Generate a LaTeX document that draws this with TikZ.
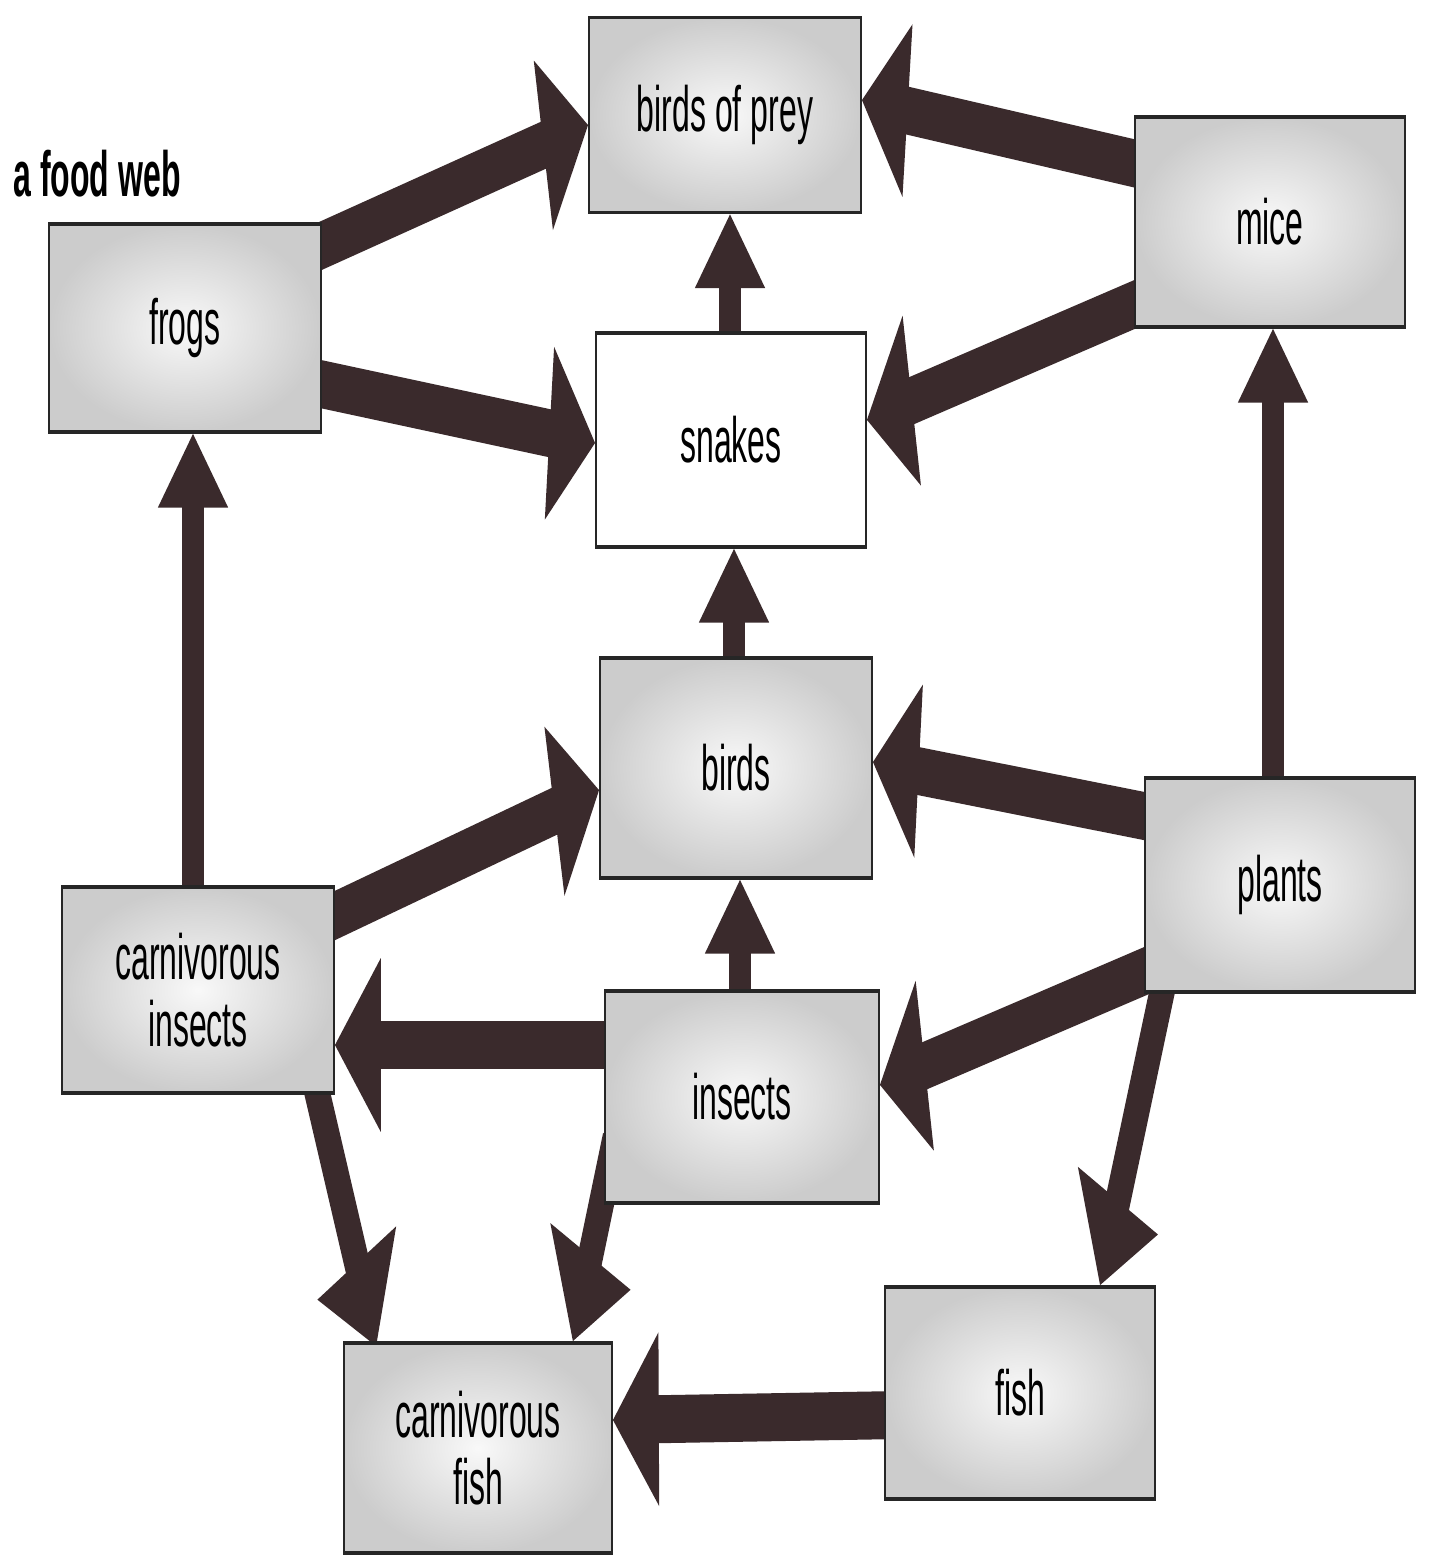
\documentclass[tikz,border=0pt]{standalone}
\usepackage{fontspec}
\setmainfont{Liberation Sans}
\usetikzlibrary{arrows.meta,calc}
\pgfdeclarelayer{bg}
\pgfsetlayers{bg,main}
\definecolor{arrowcol}{RGB}{58,42,44}
\tikzset{
  box/.style 2 args={draw=black!85, line width=1.6pt, minimum width=#1pt,
    minimum height=#2pt, inner sep=0pt, align=center,
    font=\fontsize{32}{33.5}\selectfont,
    inner color=gray!5, outer color=gray!40},
  plainbox/.style 2 args={draw=black!85, line width=1.6pt, minimum width=#1pt,
    minimum height=#2pt, inner sep=0pt, align=center,
    font=\fontsize{32}{33.5}\selectfont, fill=white},
  fat/.style={draw=arrowcol, line width=24pt, -{Triangle[length=46pt,width=84pt]}},
  fatv/.style={draw=arrowcol, line width=22pt, -{Triangle[length=37pt,width=68pt]}},
  title/.style={anchor=base west, font=\bfseries\fontsize{32}{36}\selectfont}
}
\begin{document}
\begin{tikzpicture}[x=1pt, y=-0.5pt]
\useasboundingbox (0pt,0pt) rectangle (1429pt,-1563pt);
\begin{scope}[transform canvas={yscale=2}]
  \node[title] (title) at (10,196) {a food web};
  \node[box={272}{97.5}] (bop) at (725,115) {birds of prey};
  \node[box={270}{105}] (mice) at (1270,222) {mice};
  \node[box={272}{104}] (frogs) at (185,328) {frogs};
  \node[plainbox={270}{107}] (snakes) at (731,440) {snakes};
  \node[box={272}{110}] (birds) at (736,768) {birds};
  \node[box={270}{107}] (plants) at (1280,885) {plants};
  \node[box={272}{103}] (carnins) at (198,990) {carnivorous\\insects};
  \node[box={274}{106}] (insects) at (742,1097) {insects};
  \node[box={270}{106}] (fish) at (1020,1393) {fish};
  \node[box={268}{105}] (carnfish) at (478,1448) {carnivorous\\fish};
\end{scope}
\begin{pgfonlayer}{bg}
\fill[white] (0pt,0pt) rectangle (1429pt,-1563pt);
\begin{scope}[transform canvas={yscale=2}]
  % frogs
  \draw[fat] ($(frogs.east)+(-28,-70)$) -- ($(bop.west)+(0,10)$);
  \draw[fat] ($(frogs.east)+(-20,52)$) -- ($(snakes.west)+(0,3)$);
  % mice
  \draw[fat] ($(mice.west)+(20,-54)$) -- ($(bop.east)+(0,-15)$);
  \draw[fat] ($(mice.west)+(20,74)$) -- ($(snakes.east)+(0,-20)$);
  % vertical ones
  \draw[fatv] ($(snakes.north)+(-1,10)$) -- ($(bop.south)+(5,0)$);
  \draw[fatv] ($(birds.north)+(-2,10)$) -- ($(snakes.south)+(3,0)$);
  \draw[fatv] ($(plants.north)+(-7,10)$) -- ($(mice.south)+(3,0)$);
  \draw[fatv] ($(insects.north)+(-2,10)$) -- ($(birds.south)+(4,0)$);
  \draw[fatv] ($(carnins.north)+(-5,10)$) -- ($(frogs.south)+(8,0)$);
  % plants
  \draw[fat] ($(plants.west)+(20,-65)$) -- ($(birds.east)+(0,-6)$);
  \draw[fat] ($(plants.west)+(20,78)$) -- ($(insects.east)+(0,-12)$);
  \draw[fat] ($(plants.south west)+(20,-12)$) -- ($(fish.north)+(80,0)$);
  % insects
  \draw[fat] ($(insects.west)+(15,-52)$) -- ($(carnins.east)+(0,55)$);
  \draw[fat] ($(insects.west)+(10,45)$) -- ($(carnfish.north east)+(-40,0)$);
  % carnivorous insects
  \draw[fat] ($(carnins.east)+(-22,-64)$) -- ($(birds.west)+(0,22)$);
  \draw[fat] ($(carnins.south east)+(-20,-12)$) -- ($(carnfish.north west)+(33,5)$);
  % fish
  \draw[fat] ($(fish.west)+(15,22)$) -- ($(carnfish.east)+(0,-28)$);
\end{scope}
\end{pgfonlayer}
\end{tikzpicture}
\end{document}
